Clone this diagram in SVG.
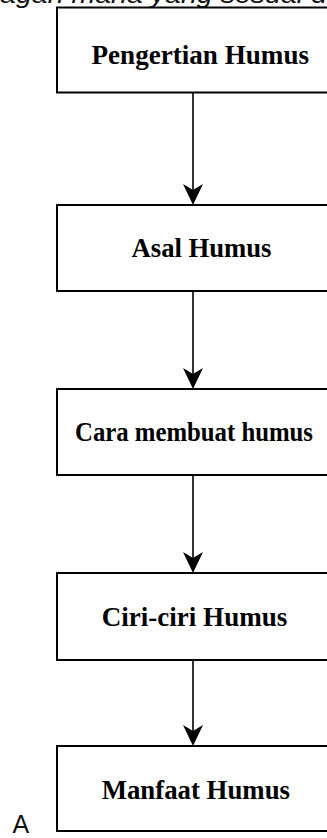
<svg xmlns="http://www.w3.org/2000/svg" width="327" height="838" viewBox="0 0 327 838">
<style>
.box{fill:#fff;stroke:#000;stroke-width:2}
.lbl{font-family:"Liberation Serif","Times New Roman",serif;font-weight:bold;font-size:27px;fill:#000}
.edge{stroke:#000;stroke-width:1.6;fill:none;marker-end:url(#arr)}
.cap{font-family:"Liberation Sans",Arial,sans-serif;fill:#111}
</style>
<defs>
<marker id="arr" viewBox="0 -11 22 22" refX="16" refY="0" markerWidth="22" markerHeight="22" markerUnits="userSpaceOnUse" orient="auto">
<path d="M0,-10 L21,0 L0,10 L6,0 Z" fill="#000"/>
</marker>
</defs>
<rect width="327" height="838" fill="#fff"/>
<text class="cap" x="0" y="2.5" font-size="26" font-style="italic" textLength="327" lengthAdjust="spacingAndGlyphs">agan mana yang sesuai d</text>
<g id="connectors">
<path class="edge" d="M193,93 L193,200"/>
<path class="edge" d="M193,291 L193,384"/>
<path class="edge" d="M193,475 L193,568"/>
<path class="edge" d="M193,660 L193,741"/>
</g>
<g id="n1">
<rect class="box" x="57" y="7.5" width="290" height="85"/>
<text class="lbl" x="91.5" y="63.5" font-size="31" textLength="217.5" lengthAdjust="spacingAndGlyphs">Pengertian Humus</text>
</g>
<g id="n2">
<rect class="box" x="57" y="205" width="290" height="86"/>
<text class="lbl" x="131.5" y="256.7" textLength="140" lengthAdjust="spacingAndGlyphs">Asal Humus</text>
</g>
<g id="n3">
<rect class="box" x="57" y="389" width="290" height="86"/>
<text class="lbl" x="75" y="440.7" font-size="24.5" textLength="238" lengthAdjust="spacingAndGlyphs">Cara membuat humus</text>
</g>
<g id="n4">
<rect class="box" x="57" y="573" width="290" height="87"/>
<text class="lbl" x="101.7" y="626" textLength="185.6" lengthAdjust="spacingAndGlyphs">Ciri-ciri Humus</text>
</g>
<g id="n5">
<rect class="box" x="57" y="746" width="290" height="85"/>
<text class="lbl" x="101.7" y="799.3" textLength="188.3" lengthAdjust="spacingAndGlyphs">Manfaat Humus</text>
</g>
<text class="cap" x="12.5" y="832.7" font-size="25">A</text>
</svg>
